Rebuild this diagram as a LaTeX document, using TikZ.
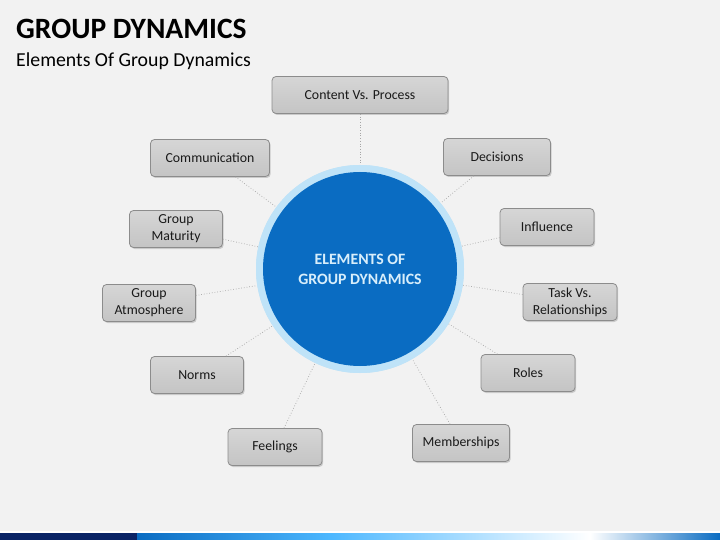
\documentclass[tikz,border=0pt]{standalone}
\usepackage{fontspec}
\setmainfont{Carlito}
\usetikzlibrary{shadows}
\definecolor{bg}{HTML}{F2F2F2}
\definecolor{boxfill}{HTML}{C4C4C4}
\definecolor{boxline}{HTML}{8C8C8C}
\definecolor{cblue}{HTML}{0A6CC2}
\definecolor{cring}{HTML}{BFE3F8}
\definecolor{navy}{HTML}{0B2466}
\begin{document}
\begin{tikzpicture}[x=1pt,y=-1pt,
  ebox/.style={draw=boxline, line width=0.8pt, rounded corners=4pt,
    top color=boxfill!70!white, bottom color=boxfill, minimum height=37pt,
    align=center, font=\fontsize{13.8}{17}\selectfont, inner sep=2pt, text=black!90,
    drop shadow={shadow xshift=1.2pt, shadow yshift=-1.5pt, opacity=0.35}},
  link/.style={draw=gray!70, dotted, line width=0.7pt}]
\useasboundingbox (0,0) rectangle (720,540);
\fill[bg] (0,0) rectangle (720,540);
% bottom bar
\fill[navy] (0,533) rectangle (137,540);
\shade[left color=cblue, right color=cyan!60!blue!70] (137,533) rectangle (330,540);
\shade[left color=cyan!60!blue!70, right color=white] (330,533) rectangle (590,540);
\shade[left color=white, right color=cblue] (590,533) rectangle (720,540);
\fill[white] (0,531) rectangle (720,533);
% titles
\node[anchor=west, font=\fontsize{29.5}{32}\selectfont\bfseries, inner sep=0] (title) at (16,29) {GROUP DYNAMICS};
\node[anchor=west, font=\fontsize{19.8}{22}\selectfont, inner sep=0] (sub) at (16,61) {Elements Of Group Dynamics};
% boxes
\node[ebox, minimum width=176pt] (cvp) at (360,95) {Content Vs. Process};
\node[ebox, minimum width=119pt] (com) at (210,158) {Communication};
\node[ebox, minimum width=107pt] (dec) at (497,157) {Decisions};
\node[ebox, minimum width=93pt] (gm) at (176,229) {Group\\Maturity};
\node[ebox, minimum width=94pt] (inf) at (547,227) {Influence};
\node[ebox, minimum width=93pt] (ga) at (149,303) {Group\\Atmosphere};
\node[ebox, minimum width=94pt] (tvr) at (570,302) {Task Vs.\\Relationships};
\node[ebox, minimum width=93pt] (nor) at (197,375) {Norms};
\node[ebox, minimum width=94pt] (rol) at (528,373) {Roles};
\node[ebox, minimum width=94pt] (fee) at (275,447) {Feelings};
\node[ebox, minimum width=97pt] (mem) at (461,443) {Memberships};
% center circle
\node[circle, fill=cring, minimum size=208pt, inner sep=0] (ring) at (360,269) {};
\foreach \n in {cvp,com,dec,gm,inf,ga,tvr,nor,rol,fee,mem}
  \draw[link] (\n) -- (ring);
\node[circle, fill=cring, minimum size=208pt, inner sep=0] at (360,269) {};
\node[circle, fill=cblue, minimum size=194pt, inner sep=0, align=center,
  text=cring!60!white, font=\fontsize{15.8}{20}\selectfont\bfseries] (core) at (360,269) {ELEMENTS OF\\GROUP DYNAMICS};
\end{tikzpicture}
\end{document}
